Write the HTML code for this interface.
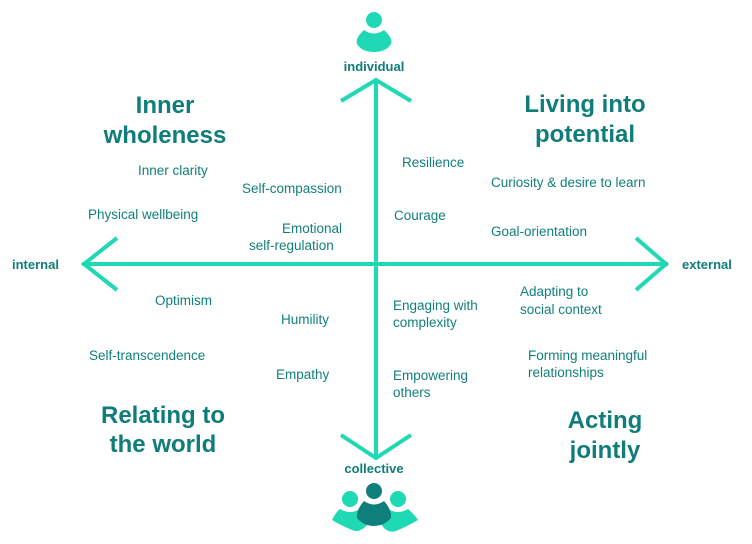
<!DOCTYPE html>
<html><head><meta charset="utf-8"><style>
html,body{margin:0;padding:0;background:#fff;}
svg{display:block}
text{font-family:"Liberation Sans",sans-serif;fill:#11807b}
.t{font-size:24px;font-weight:bold;text-anchor:middle;fill:#0f7d79}
.s{font-size:13.5px}
.a{font-size:13px;font-weight:bold;fill:#0f7d79}
</style></head><body>
<svg width="752" height="544" viewBox="0 0 752 544">
<g stroke="#1fd8b4" stroke-width="4" fill="none" stroke-linecap="butt">
<line x1="376" y1="80" x2="376" y2="458"/>
<line x1="82" y1="264" x2="668" y2="264"/>
<polyline points="341,101 376,80 411,101"/>
<polyline points="341,435 376,458 411,435"/>
<polyline points="117,238 84,264 117,290"/>
<polyline points="636,238 666,264 636,290"/>
</g>
<g fill="#1fd8b4">
<circle cx="374" cy="20" r="8"/>
<path d="M364,30 Q374,37 384,30 Q393,38 391,44 Q386,52 374,52 Q362,52 357,44 Q355,38 364,30Z"/>
<circle cx="350" cy="499" r="8"/>
<path d="M340,509 Q350,515 360,509 L370,522 Q360,534 352,530 Q340,525 332,520 Q336,512 340,509Z"/>
<circle cx="398" cy="499" r="8"/>
<path d="M388,509 Q398,515 408,509 Q414,514 418,520 Q408,526 396,531 Q386,534 380,522Z"/>
</g>
<g fill="#0e7f7a">
<circle cx="374" cy="491" r="8"/>
<path d="M364,501 Q374,508 384,501 Q392,510 391,518 Q384,526 374,526 Q364,526 357,518 Q356,510 364,501Z"/>
</g>
<text class="a" x="374" y="71" text-anchor="middle">individual</text>
<text class="a" x="374" y="473" text-anchor="middle">collective</text>
<text class="a" x="12" y="269">internal</text>
<text class="a" x="682" y="269">external</text>
<text class="t" x="165" y="113">Inner</text>
<text class="t" x="165" y="143">wholeness</text>
<text class="t" x="585" y="112">Living into</text>
<text class="t" x="585" y="142">potential</text>
<text class="t" x="163" y="423">Relating to</text>
<text class="t" x="163" y="452">the world</text>
<text class="t" x="605" y="428">Acting</text>
<text class="t" x="605" y="458">jointly</text>
<g class="s">
<text class="s" x="138" y="175">Inner clarity</text>
<text class="s" x="242" y="193">Self-compassion</text>
<text class="s" x="88" y="219">Physical wellbeing</text>
<text class="s" x="282" y="233">Emotional</text>
<text class="s" x="249" y="250">self-regulation</text>
<text class="s" x="402" y="167">Resilience</text>
<text class="s" x="491" y="187">Curiosity &amp; desire to learn</text>
<text class="s" x="394" y="220">Courage</text>
<text class="s" x="491" y="236">Goal-orientation</text>
<text class="s" x="155" y="305">Optimism</text>
<text class="s" x="281" y="324">Humility</text>
<text class="s" x="89" y="360">Self-transcendence</text>
<text class="s" x="276" y="379">Empathy</text>
<text class="s" x="393" y="310">Engaging with</text>
<text class="s" x="393" y="327">complexity</text>
<text class="s" x="393" y="380">Empowering</text>
<text class="s" x="393" y="397">others</text>
<text class="s" x="520" y="296">Adapting to</text>
<text class="s" x="520" y="314">social context</text>
<text class="s" x="528" y="360">Forming meaningful</text>
<text class="s" x="528" y="377">relationships</text>
</g>
</svg>
</body></html>
